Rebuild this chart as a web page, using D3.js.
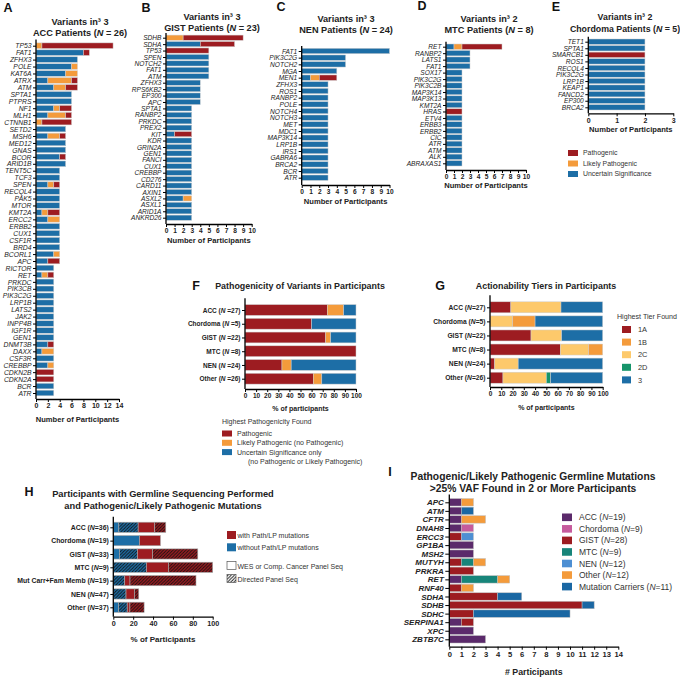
<!DOCTYPE html>
<html><head><meta charset="utf-8">
<script src="https://cdn.jsdelivr.net/npm/d3@7"></script>
<style>body{margin:0;background:#fff} svg{display:block} text{font-family:'Liberation Sans',Arial,sans-serif}</style>
</head><body><svg id="c" width="680" height="678"></svg>
<script>
// ---------- DATA ----------
const aGenes = ["TP53","FAT1","ZFHX3","POLE","KAT6A","ATRX","ATM","SPTA1","PTPRS","NF1","MLH1","CTNNB1","SETD2","MSH6","MED12","GNAS","BCOR","ARID1B","TENT5C","TCF3","SPEN","RECQL4","PAK5","MTOR","KMT2A","ERCC2","ERBB2","CUX1","CSF1R","BRD4","BCORL1","APC","RICTOR","RET","PRKDC","PIK3CB","PIK3C2G","LRP1B","LATS2","JAK2","INPP4B","IGF1R","GEN1","DNMT3B","DAXX","CSF3R","CREBBP","CDKN2B","CDKN2A","BCR","ATR"];
const aVUS  = [0,8,7,6,5,2,3,6,6,3,2,0,5,2,5,5,4,5,4,4,2,4,4,4,1,2,4,4,4,4,3,2,3,1,3,3,3,3,3,3,3,3,3,2,1,3,2,0,0,3,3];
const aLP   = [1,0,0,1,2,4,2,0,0,1,3,1,0,2,0,0,0,0,0,0,1,0,0,0,1,2,0,0,0,0,1,0,0,1,0,0,0,0,0,0,0,0,0,0,2,0,1,0,0,0,0];
const aPath = [12,1,0,0,0,1,2,0,0,2,1,5,0,1,0,0,1,0,0,0,1,0,0,0,2,0,0,0,0,0,0,2,0,1,0,0,0,0,0,0,0,0,0,1,0,0,0,3,3,0,0];

const bGenes = ["SDHB","SDHA","TP53","SPEN","NOTCH2","FAT1","ATM","ZFHX3","RPS6KB2","EP300","APC","SPTA1","RANBP2","PRKDC","PREX2","KIT","KDR","GRIN2A","GEN1","FANCI","CUX1","CREBBP","CD276","CARD11","AXIN1","ASXL2","ASXL1","ARID1A","ANKRD26"];
const bVUS  = [0,4,0,5,5,5,5,4,4,4,4,3,3,3,3,1,3,3,3,3,3,3,3,3,3,2,3,3,3];
const bLP   = [2,0,0,0,0,0,0,0,0,0,0,0,0,0,0,0,0,0,0,0,0,0,0,0,0,1,0,0,0];
const bPath = [7,4,5,0,0,0,0,0,0,0,0,0,0,0,0,2,0,0,0,0,0,0,0,0,0,0,0,0,0];

const cGenes = ["FAT1","PIK3C2G","NOTCH2","MGA","MEN1","ZFHX3","ROS1","RANBP2","POLE","NOTCH4","NOTCH3","MET","MDC1","MAP3K14","LRP1B","IRS1","GABRA6","BRCA2","BCR","ATR"];
const cVUS  = [10,5,5,4,1,3,3,3,3,3,3,3,3,3,3,3,3,3,3,3];
const cLP   = [0,0,0,0,1,0,0,0,0,0,0,0,0,0,0,0,0,0,0,0];
const cPath = [0,0,0,0,2,0,0,0,0,0,0,0,0,0,0,0,0,0,0,0];

const dGenes = ["RET","RANBP2","LATS1","FAT1","SOX17","PIK3C2G","PIK3C2B","MAP3K14","MAP3K13","KMT2A","HRAS","ETV4","ERBB3","ERBB2","CIC","ATR","ATM","ALK","ABRAXAS1"];
const dVUS  = [1,3,3,3,2,2,2,2,2,2,0,2,2,2,2,2,2,2,2];
const dLP   = [1,0,0,0,0,0,0,0,0,0,0,0,0,0,0,0,0,0,0];
const dPath = [5,0,0,0,0,0,0,0,0,0,2,0,0,0,0,0,0,0,0];

const eGenes = ["TET1","SPTA1","SMARCB1","ROS1","RECQL4","PIK3C2G","LRP1B","KEAP1","FANCD2","EP300","BRCA2"];
const eVUS  = [2,2,0,2,2,2,2,2,2,2,2];
const eLP   = [0,0,0,0,0,0,0,0,0,0,0];
const ePath = [0,0,2,0,0,0,0,0,0,0,0];

const fCats = ["ACC (N =27)","Chordoma (N =5)","GIST (N =22)","MTC (N =8)","NEN (N =24)","Other (N =26)"];
const fPath = [74.1,60,72.7,100,33.3,61.5];
const fLP   = [14.8,0,4.5,0,8.3,7.7];
const fVUS  = [11.1,40,22.8,0,58.4,30.8];

const gCats = ["ACC (N=27)","Chordoma (N=5)","GIST (N=22)","MTC (N=8)","NEN (N=24)","Other (N=26)"];
const g1A = [18.5,0,36.4,62.5,4.2,11.5];
const g2C = [44.5,20,27.2,25,20.8,38.5];
const g1B = [0,20,0,12.5,0,0];
const g2D = [0,0,0,0,0,3.8];
const g3  = [37,60,36.4,0,75,46.2];

const hCats = ["ACC (N=36)","Chordoma (N=19)","GIST (N=33)","MTC (N=9)","Mut Carr+Fam Memb (N=19)","NEN (N=47)","Other (N=37)"];
const hBlueWes = [5.6,26.3,6.1,0,0,0,5.4];
const hBlueDir = [19.4,0,18.2,33.3,11.5,12.8,8.6];
const hRedWes  = [16.7,21.1,15.2,22.2,5.3,8.5,2.7];
const hRedDir  = [11.1,0,45.5,44.5,66.4,4.3,14.3];

const iGenes = ["APC","ATM","CFTR","DNAH8","ERCC3","GP1BA","MSH2","MUTYH","PRKRA","RET","RNF40","SDHA","SDHB","SDHC","SERPINA1","XPC","ZBTB7C"];
const iACC   = [1,1,1,1,0,2,2,0,0,1,0,0,0,0,1,2,3];
const iChord = [0,0,0,1,0,0,0,0,0,0,0,0,0,0,0,0,0];
const iGIST  = [0,0,0,0,1,0,0,1,2,0,1,4,11,2,1,0,0];
const iMTC   = [0,0,0,0,0,0,0,1,0,3,0,0,0,0,0,0,0];
const iNEN   = [0,0,0,0,1,0,0,0,0,0,0,0,0,0,0,0,0];
const iOther = [1,0,2,0,0,0,0,1,0,1,1,0,0,0,0,0,0];
const iMut   = [0,1,0,0,0,0,0,0,0,0,0,2,1,8,0,0,0];

// ---------- STYLE ----------
const RED="#9d1c21", ORANGE="#f49b3b", BLUE="#1d6ea6", YELLOW="#fdc96b", GREEN="#16946a";
const PURPLE="#5b2a6b", PINK="#c65b9d", TEAL="#17857a", LBLUE="#4d8fd3", MBLUE="#1a67a3";

const svg = d3.select("#c");
const defs = svg.append("defs");
function hatch(id, bg){
  const p = defs.append("pattern").attr("id",id).attr("patternUnits","userSpaceOnUse").attr("width",3.2).attr("height",3.2);
  p.append("rect").attr("width",3.2).attr("height",3.2).attr("fill",bg);
  p.append("path").attr("d","M-0.8,0.8 L0.8,-0.8 M0,3.2 L3.2,0 M2.4,4 L4,2.4").attr("stroke","#111").attr("stroke-width",0.9);
}
hatch("hB",BLUE); hatch("hR",RED); hatch("hW","#fff");

function rich(sel, str){
  sel.text(null);
  const parts = str.split(/(N)(?=\s?=)/);
  parts.forEach(p=>{ if(p==="") return; const t=sel.append("tspan").text(p); if(p==="N") t.attr("font-style","italic"); });
}

function hbar(o){
  const g = svg.append("g");
  const x = d3.scaleLinear().domain([0,o.max]).range([o.x0,o.x1]);
  const y = d3.scalePoint().domain(o.cats).range([o.yTop,o.yBot]);
  const step = (o.yBot-o.yTop)/(o.cats.length-1);
  const keys = o.series.map((s,i)=>"s"+i);
  const rows = o.cats.map((c,j)=>{const r={cat:c}; o.series.forEach((s,i)=>r["s"+i]=s.vals[j]); return r;});
  const stacked = d3.stack().keys(keys)(rows);
  stacked.forEach((layer,i)=>{
    g.append("g").selectAll("rect").data(layer.filter(d=>d[1]>d[0])).join("rect")
      .attr("x",d=>x(d[0])).attr("width",d=>x(d[1])-x(d[0]))
      .attr("y",d=>y(d.data.cat)-o.barH/2).attr("height",o.barH)
      .attr("fill",o.series[i].fill).attr("stroke",o.stroke||"#cfcfcf").attr("stroke-width",o.sw||0.5);
  });
  const ax = g.append("g").attr("transform",`translate(${o.x0},0)`)
    .call(d3.axisLeft(y).tickSize(o.tickL||3).tickSizeOuter(0).tickPadding(1.5));
  ax.select(".domain").remove();
  ax.attr("font-family",null).attr("font-size",null);
  ax.selectAll("line").attr("stroke","#000").attr("stroke-width",1);
  ax.selectAll("text").attr("font-size",o.labFs).attr("font-style",o.labItalic?"italic":"normal")
    .attr("font-weight",o.labBold?"bold":"normal").attr("fill","#222")
    .each(function(d){ if(o.rich) rich(d3.select(this), d); });
  g.append("line").attr("x1",o.x0).attr("x2",o.x0).attr("y1",o.yTop-step*(o.topPad||0.75)).attr("y2",o.axisY).attr("stroke","#000").attr("stroke-width",1.3);
  const bx = g.append("g").attr("transform",`translate(0,${o.axisY})`)
    .call(d3.axisBottom(x).tickValues(o.ticks).tickFormat(d3.format("d")).tickSize(3).tickSizeOuter(0).tickPadding(1.5));
  bx.attr("font-family",null).attr("font-size",null);
  bx.select(".domain").attr("stroke","#000").attr("stroke-width",1.3);
  bx.selectAll("line").attr("stroke","#000").attr("stroke-width",1);
  bx.selectAll("text").attr("font-size",o.tickFs).attr("font-weight","bold").attr("fill","#222");
  if(o.xTitle) g.append("text").attr("x",(o.x0+o.x1)/2).attr("y",o.xTitleY).attr("text-anchor","middle")
    .attr("font-size",o.xTitleFs).attr("font-weight","bold").attr("fill","#222").text(o.xTitle);
  return g;
}
function title(lines, cx, ys, fs, bold){
  lines.forEach((l,i)=>{
    const t = svg.append("text").attr("x",cx).attr("y",ys[i]).attr("text-anchor","middle")
      .attr("font-size",fs).attr("font-weight",bold?"bold":"normal").attr("fill","#222");
    rich(t,l);
  });
}
function letter(L,x,y){
  svg.append("text").attr("x",x).attr("y",y).attr("text-anchor","middle").attr("font-size",12.5)
    .attr("font-weight","bold").attr("fill","#111").text(L);
}

const varSeries = (v,l,p)=>[{vals:v,fill:BLUE},{vals:l,fill:ORANGE},{vals:p,fill:RED}];

// ---------- A ----------
letter("A",8,12);
title(["Variants in³ 3","ACC Patients (N = 26)"],80,[24.5,35.5],9.2,true);
hbar({cats:aGenes,series:varSeries(aVUS,aLP,aPath),max:14,x0:36,x1:119,yTop:45.7,yBot:393,barH:5.6,
  axisY:399,ticks:d3.range(0,15,2),labFs:6.8,labItalic:true,tickFs:7,xTitle:"Number of Participants",xTitleY:422,xTitleFs:7.6,topPad:0.9});
// ---------- B ----------
letter("B",146,12);
title(["Variants in³ 3","GIST Patients (N = 23)"],212,[19.5,30.5],9.2,true);
hbar({cats:bGenes,series:varSeries(bVUS,bLP,bPath),max:10,x0:166,x1:251.7,yTop:37.7,yBot:217.7,barH:5.2,
  axisY:224,ticks:d3.range(0,11),labFs:6.6,labItalic:true,tickFs:6.6,xTitle:"Number of Participants",xTitleY:243,xTitleFs:7.6});
// ---------- C ----------
letter("C",281,11);
title(["Variants in³ 3","NEN Patients (N = 24)"],346,[22,33],9.2,true);
hbar({cats:cGenes,series:varSeries(cVUS,cLP,cPath),max:10,x0:301.7,x1:389.5,yTop:51,yBot:177.7,barH:5.4,
  axisY:185,ticks:d3.range(0,11),labFs:6.6,labItalic:true,tickFs:6.6,xTitle:"Number of Participants",xTitleY:204,xTitleFs:7.6});
// ---------- D ----------
letter("D",422,10);
title(["Variants in³ 2","MTC Patients (N = 8)"],489,[22,33],9.2,true);
hbar({cats:dGenes,series:varSeries(dVUS,dLP,dPath),max:10,x0:446,x1:526,yTop:46.7,yBot:163.3,barH:5.4,
  axisY:170,ticks:d3.range(0,11),labFs:6.6,labItalic:true,tickFs:6.6,xTitle:"Number of Participants",xTitleY:188,xTitleFs:7.6});
// ---------- E ----------
letter("E",556,11);
title(["Variants in³ 2","Chordoma Patients (N = 5)"],625,[20,32],8.8,true);
hbar({cats:eGenes,series:varSeries(eVUS,eLP,ePath),max:3,x0:588.3,x1:673.3,yTop:41.7,yBot:107.3,barH:5.4,
  axisY:113.3,ticks:[0,1,2,3],labFs:6.6,labItalic:true,tickFs:7,xTitle:"Number of Participants",xTitleY:132,xTitleFs:7.6});
// E legend
const eLeg = [["Pathogenic",RED],["Likely Pathogenic",ORANGE],["Uncertain Significance",BLUE]];
eLeg.forEach((d,i)=>{
  const yy=153+i*10.5;
  svg.append("rect").attr("x",568).attr("y",yy-3).attr("width",10).attr("height",6).attr("fill",d[1]);
  svg.append("text").attr("x",583).attr("y",yy+2.4).attr("font-size",6.9).attr("fill","#333").text(d[0]);
});

// ---------- F ----------
letter("F",196,290);
title(["Pathogenicity of Variants in Participants"],300,[289],8.9,true);
hbar({cats:fCats,series:[{vals:fPath,fill:RED},{vals:fLP,fill:ORANGE},{vals:fVUS,fill:BLUE}],max:100,x0:245,x1:356,
  yTop:310,yBot:378.7,barH:10.8,axisY:389,ticks:d3.range(0,101,10),labFs:6.5,labBold:true,rich:true,tickFs:6.5,
  xTitle:"% of participants",xTitleY:411,xTitleFs:7,topPad:0.85,tickL:3});
svg.append("text").attr("x",222).attr("y",424).attr("font-size",7).attr("fill","#333").text("Highest Pathogenicity Found");
const fLeg = [["Pathogenic",RED],["Likely Pathogenic (no Pathogenic)",ORANGE],["Uncertain Significance only",BLUE]];
fLeg.forEach((d,i)=>{
  const yy=433.5+i*9.3;
  svg.append("rect").attr("x",222).attr("y",yy-3).attr("width",10).attr("height",6).attr("fill",d[1]);
  svg.append("text").attr("x",237).attr("y",yy+2.4).attr("font-size",7).attr("fill","#333").text(d[0]);
});
svg.append("text").attr("x",248).attr("y",463.5).attr("font-size",7).attr("fill","#333").text("(no Pathogenic or Likely Pathogenic)");

// ---------- G ----------
letter("G",440,290);
title(["Actionability Tiers in Participants"],546,[289],8.9,true);
hbar({cats:gCats,series:[{vals:g1A,fill:RED},{vals:g2C,fill:YELLOW},{vals:g1B,fill:ORANGE},{vals:g2D,fill:GREEN},{vals:g3,fill:BLUE}],
  max:100,x0:490,x1:602.7,yTop:307.3,yBot:377.7,barH:11,axisY:387,ticks:d3.range(0,101,10),labFs:6.7,labBold:true,rich:true,
  tickFs:6.5,xTitle:"% of participants",xTitleY:410,xTitleFs:7,topPad:0.85});
svg.append("text").attr("x",617).attr("y",319).attr("font-size",7.1).attr("fill","#333").text("Highest Tier Found");
const gLeg = [["1A",RED],["1B",ORANGE],["2C",YELLOW],["2D",GREEN],["3",BLUE]];
gLeg.forEach((d,i)=>{
  const yy=329.5+i*12.6;
  svg.append("rect").attr("x",622).attr("y",yy-3.5).attr("width",9).attr("height",7).attr("fill",d[1]);
  svg.append("text").attr("x",638).attr("y",yy+2.6).attr("font-size",7.4).attr("fill","#333").text(d[0]);
});

// ---------- H ----------
letter("H",29,496);
title(["Participants with Germline Sequencing Performed","and Pathogenic/Likely Pathogenic Mutations"],163,[497,509],9.3,true);
hbar({cats:hCats,series:[{vals:hBlueWes,fill:BLUE},{vals:hBlueDir,fill:"url(#hB)"},{vals:hRedWes,fill:RED},{vals:hRedDir,fill:"url(#hR)"}],
  max:100,x0:113.3,x1:212.7,yTop:527.3,yBot:607.3,barH:10.2,axisY:616.7,ticks:d3.range(0,101,20),labFs:6.9,labBold:true,rich:true,
  tickFs:7.2,xTitle:"% of Participants",xTitleY:641.5,xTitleFs:8,stroke:"#aaa",sw:0.6,topPad:0.8});
const hLeg = [["with Path/LP mutations",RED,535],["without Path/LP mutations",BLUE,547.3],["WES or Comp. Cancer Panel Seq","#fff",565.5],["Directed Panel Seq","url(#hW)",578.5]];
hLeg.forEach((d,i)=>{
  svg.append("rect").attr("x",227).attr("y",d[2]-4).attr("width",9).attr("height",8).attr("fill",d[1])
    .attr("stroke",i>=2?"#555":"none").attr("stroke-width",0.7);
  svg.append("text").attr("x",237.5).attr("y",d[2]+(i>=2?3.5:2.5)).attr("font-size",7).attr("fill","#333").text(d[0]);
});

// ---------- I ----------
letter("I",390,476);
title(["Pathogenic/Likely Pathogenic Germline Mutations",">25% VAF Found in 2 or More Participants"],533,[479.5,492],10.3,true);
hbar({cats:iGenes,series:[{vals:iACC,fill:PURPLE},{vals:iChord,fill:PINK},{vals:iGIST,fill:RED},{vals:iMTC,fill:TEAL},{vals:iNEN,fill:LBLUE},{vals:iOther,fill:ORANGE},{vals:iMut,fill:MBLUE}],
  max:14,x0:449.3,x1:618.3,yTop:502.3,yBot:639.3,barH:7.4,axisY:646.7,ticks:d3.range(0,15),labFs:8,labBold:true,labItalic:true,
  tickFs:7.6,xTitle:"# Participants",xTitleY:675,xTitleFs:8.8,stroke:"#bbb",sw:0.5,topPad:0.9,tickL:4});
const iLeg = [["ACC (N=19)",PURPLE],["Chordoma (N=9)",PINK],["GIST (N=28)",RED],["MTC (N=9)",TEAL],["NEN (N=12)",LBLUE],["Other (N=12)",ORANGE],["Mutation Carriers (N=11)",MBLUE]];
iLeg.forEach((d,i)=>{
  const yy=517.3+i*11.55;
  svg.append("rect").attr("x",562).attr("y",yy-3.8).attr("width",10).attr("height",7.6).attr("fill",d[1]);
  const t=svg.append("text").attr("x",579).attr("y",yy+3).attr("font-size",8.5).attr("fill","#333");
  rich(t,d[0]);
});
</script></body></html>
